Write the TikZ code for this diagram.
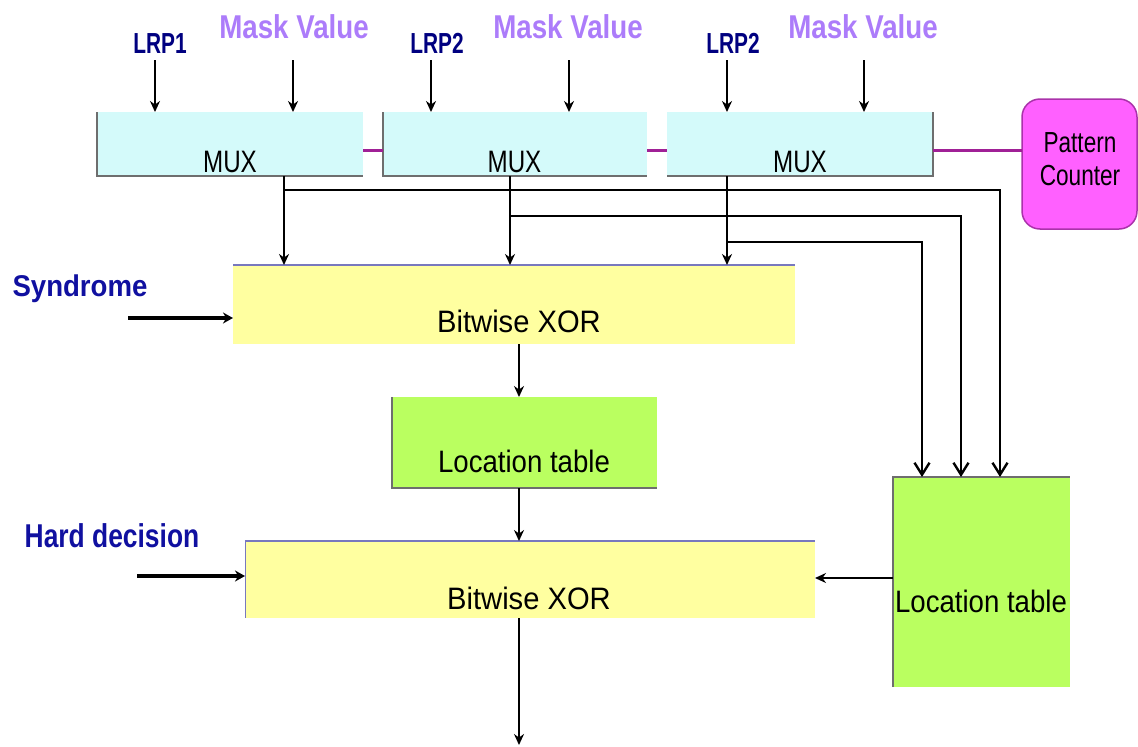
\documentclass[tikz,border=0pt]{standalone}
\usepackage{fontspec}
\usepackage{graphicx}
\setmainfont{Liberation Sans}
\usetikzlibrary{arrows.meta}

\definecolor{muxfill}{RGB}{212,250,250}
\definecolor{xorfill}{RGB}{255,255,160}
\definecolor{locfill}{RGB}{186,255,96}
\definecolor{pcfill}{RGB}{255,96,255}
\definecolor{pcdraw}{RGB}{170,50,170}
\definecolor{linkcol}{RGB}{160,32,150}
\definecolor{navy}{RGB}{0,0,128}
\definecolor{sigblue}{RGB}{16,16,160}
\definecolor{maskcol}{RGB}{172,124,250}
\definecolor{xortopcol}{RGB}{120,120,190}
\definecolor{edgecol}{RGB}{110,110,110}

\newcommand{\cond}[2]{\scalebox{#1}[1]{#2}}

\begin{document}
\begin{tikzpicture}[x=1pt,y=-1pt,
  box/.style={inner sep=0pt,outer sep=0pt},
  muxbox/.style={box,fill=muxfill,minimum width=266pt,minimum height=64pt},
  xorbox/.style={box,fill=xorfill,minimum height=78pt},
  locbox/.style={box,fill=locfill},
  pcbox/.style={box,fill=pcfill,draw=pcdraw,line width=1.5pt,rounded corners=18pt,
    minimum width=115pt,minimum height=130pt},
  boxtext/.style={anchor=base,inner sep=0pt,font=\fontsize{31}{34}\selectfont},
  lrplabel/.style={anchor=base,inner sep=0pt,text=navy,font=\bfseries\fontsize{29}{30}\selectfont},
  masklabel/.style={anchor=base,inner sep=0pt,text=maskcol,font=\bfseries\fontsize{33}{34}\selectfont},
  siglabel/.style={anchor=base,inner sep=0pt,text=sigblue,font=\bfseries\fontsize{30}{32}\selectfont},
  edge/.style={draw=edgecol,line width=1.5pt},
  xortop/.style={draw=xortopcol,line width=2.5pt},
  link/.style={draw=linkcol,line width=3pt},
  flow/.style={draw=black,line width=2.4pt,-{Stealth[length=11pt,width=10pt]}},
  tap/.style={draw=black,line width=2.4pt,-{Straight Barb[length=12pt,width=15pt]}},
  bigflow/.style={draw=black,line width=4pt,-{Stealth[length=10pt,width=11pt]}}
]
\useasboundingbox (0,0) rectangle (1138,747);

% ---- blocks ----
\node[muxbox] (mux1) at (230,144) {};
\node[muxbox,minimum width=264pt] (mux2) at (515,144) {};
\node[muxbox] (mux3) at (800,144) {};
\node[pcbox] (pc) at (1079.5,164) {};
\node[xorbox,minimum width=562pt,minimum height=79pt] (xor1) at (514,304.5) {};
\node[locbox,minimum width=265pt,minimum height=91pt] (lt1) at (524.5,442.5) {};
\node[xorbox,minimum width=570pt,minimum height=77pt] (xor2) at (530,579.5) {};
\node[locbox,minimum width=177pt,minimum height=210pt] (lt2) at (981.5,582) {};

% ---- block edges ----
\draw[edge] (mux1.north west) -- (mux1.south west) -- (mux1.south east);
\draw[edge] (mux2.north west) -- (mux2.south west) -- (mux2.south east);
\draw[edge] (mux3.south west) -- (mux3.south east) -- (mux3.north east);
\draw[xortop] (xor1.north west) -- (xor1.north east);
\draw[xortop] (xor2.north west) -- (xor2.north east);
\draw[draw=xortopcol,line width=1pt] (xor2.north west) -- (xor2.south west);
\draw[edge] (lt1.north west) -- (lt1.south west) -- (lt1.south east);
\draw[edge] (lt2.south west) -- (lt2.north west) -- (lt2.north east);

% ---- block texts ----
\node[boxtext] (mux1t) at (230,172) {\cond{0.78}{MUX}};
\node[boxtext] (mux2t) at (514.5,172) {\cond{0.78}{MUX}};
\node[boxtext] (mux3t) at (800,172) {\cond{0.78}{MUX}};
\node[boxtext] (xor1t) at (519,332) {\cond{0.94}{Bitwise XOR}};
\node[boxtext] (lt1t) at (524,472) {\cond{0.89}{Location table}};
\node[boxtext] (xor2t) at (529,609) {\cond{0.94}{Bitwise XOR}};
\node[boxtext] (lt2t) at (981,612) {\cond{0.89}{Location table}};
\node[anchor=base,inner sep=0pt,font=\fontsize{29}{35}\selectfont] (pct) at (1080,168)
  {\cond{0.78}{\begin{tabular}{@{}c@{}}Pattern\\[-2pt]Counter\end{tabular}}};

% ---- input labels ----
\node[lrplabel] (lrp1) at (160,53) {\cond{0.72}{LRP1}};
\node[lrplabel] (lrp2) at (437,53) {\cond{0.72}{LRP2}};
\node[lrplabel] (lrp3) at (733,53) {\cond{0.72}{LRP2}};
\node[masklabel] (mask1) at (294,38) {\cond{0.84}{Mask Value}};
\node[masklabel] (mask2) at (568,38) {\cond{0.84}{Mask Value}};
\node[masklabel] (mask3) at (863,38) {\cond{0.84}{Mask Value}};
\node[siglabel] (syn) at (80,296) {\cond{0.92}{Syndrome}};
\node[siglabel,font=\bfseries\fontsize{33}{35}\selectfont] (hd) at (112,547) {\cond{0.8}{Hard decision}};

% ---- free ends of the input and output wires ----
\coordinate (inA) at (155,60);
\coordinate (inB) at (293,60);
\coordinate (inC) at (431,60);
\coordinate (inD) at (569,60);
\coordinate (inE) at (727,60);
\coordinate (inF) at (864,60);
\coordinate (synin) at (128,318);
\coordinate (hdin) at (137,576);
\coordinate (mid) at (519,0);
\coordinate (out) at (519,745);

% ---- wires into the multiplexers ----
\foreach \c in {inA,inB}{\draw[flow] (\c) -- (\c |- mux1.north);}
\foreach \c in {inC,inD}{\draw[flow] (\c) -- (\c |- mux2.north);}
\foreach \c in {inE,inF}{\draw[flow] (\c) -- (\c |- mux3.north);}

% ---- chain to the pattern counter ----
\draw[link] ([yshift=-6pt]mux1.east) -- ([yshift=-6pt]mux2.west);
\draw[link] ([yshift=-6pt]mux2.east) -- ([yshift=-6pt]mux3.west);
\draw[link] ([yshift=-6pt]mux3.east) -- ([yshift=-6pt]mux3.east -| pc.west);

% ---- multiplexer outputs ----
\coordinate (j1) at (284,190);
\coordinate (j2) at (510,216);
\coordinate (j3) at (727,242);
\coordinate (k1) at (1000,190);
\coordinate (k2) at (961,216);
\coordinate (k3) at (922,242);
\draw[flow] (j1 |- mux1.south) -- (j1 |- xor1.north);
\draw[flow] (j2 |- mux2.south) -- (j2 |- xor1.north);
\draw[flow] (j3 |- mux3.south) -- (j3 |- xor1.north);
\draw[tap] (j1) -- (k1) -- (k1 |- lt2.north);
\draw[tap] (j2) -- (k2) -- (k2 |- lt2.north);
\draw[tap] (j3) -- (k3) -- (k3 |- lt2.north);

% ---- data path ----
\draw[bigflow] (synin) -- (synin -| xor1.west);
\draw[bigflow] (hdin) -- (hdin -| xor2.west);
\draw[flow] (mid |- xor1.south) -- (mid |- lt1.north);
\draw[flow] (mid |- lt1.south) -- (mid |- xor2.north);
\draw[flow] (mid |- xor2.south) -- (out);
\draw[flow] ([yshift=4pt]lt2.west) -- ([yshift=4pt]lt2.west -| xor2.east);
\end{tikzpicture}
\end{document}
